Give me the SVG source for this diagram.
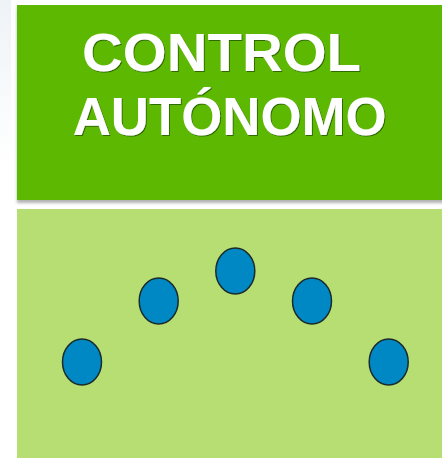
<svg xmlns="http://www.w3.org/2000/svg" width="442" height="459" viewBox="0 0 442 459">
  <defs>
    <linearGradient id="bg" x1="0" y1="0" x2="0" y2="1">
      <stop offset="0" stop-color="#eef3f7"/>
      <stop offset="1" stop-color="#ffffff"/>
    </linearGradient>
    <filter id="sh" x="-5%" y="-5%" width="110%" height="115%">
      <feDropShadow dx="0" dy="3" stdDeviation="1.8" flood-color="#000" flood-opacity="0.3"/>
    </filter>
    <filter id="tsh" x="-5%" y="-20%" width="110%" height="140%">
      <feDropShadow dx="1" dy="1" stdDeviation="0.6" flood-color="#1e4a00" flood-opacity="0.7"/>
    </filter>
  </defs>
  <style>
    .title { font-family: "Liberation Sans", Arial, sans-serif; font-weight: bold; font-size: 54px; fill: #ffffff; text-anchor: middle; }
    .dot { fill: #0088c4; stroke: #1b2b2b; stroke-width: 1.5; }
  </style>
  <rect x="0" y="0" width="442" height="459" fill="#ffffff"/>
  <rect x="0" y="0" width="11" height="165" fill="url(#bg)"/>
  <g id="header">
    <rect x="17" y="5" width="430" height="195" fill="#5cb800" filter="url(#sh)"/>
    <g filter="url(#tsh)">
      <text class="title" x="221.5" y="71" textLength="279" lengthAdjust="spacingAndGlyphs">CONTROL</text>
      <text class="title" x="229.7" y="135" textLength="314" lengthAdjust="spacingAndGlyphs">AUTÓNOMO</text>
    </g>
  </g>
  <g id="panel">
    <rect x="17" y="209" width="430" height="249" fill="#b7de73"/>
  </g>
  <g id="node1"><ellipse class="dot" cx="82" cy="362" rx="19.5" ry="23"/></g>
  <g id="node2"><ellipse class="dot" cx="158.7" cy="301" rx="19.5" ry="23"/></g>
  <g id="node3"><ellipse class="dot" cx="235.3" cy="271" rx="19.5" ry="23"/></g>
  <g id="node4"><ellipse class="dot" cx="312" cy="301" rx="19.5" ry="23"/></g>
  <g id="node5"><ellipse class="dot" cx="388.7" cy="362" rx="19.5" ry="23"/></g>
  <g id="connectors"></g>
</svg>
